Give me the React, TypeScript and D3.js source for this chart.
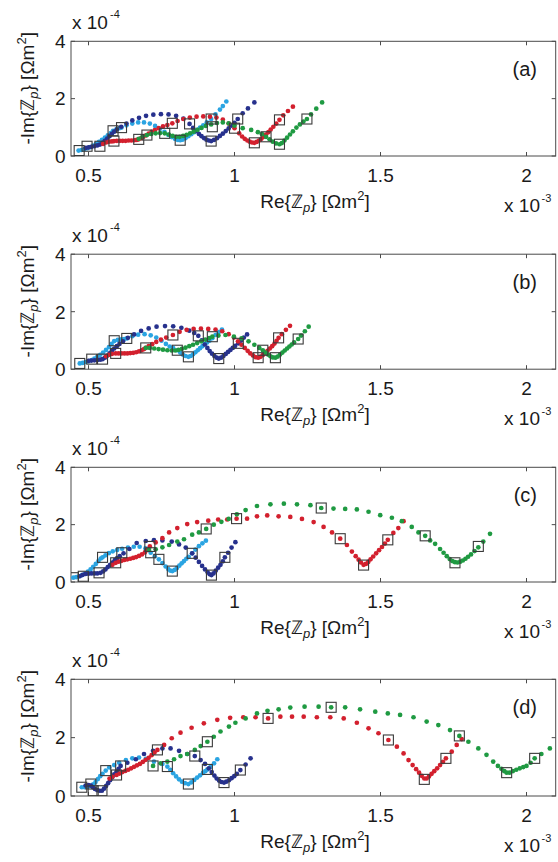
import React from "react";
import * as d3 from "d3";

// ---------- axes / labels ----------
const X_DOMAIN = [0.44, 2.1]; // x 10^-3
const Y_DOMAIN = [0, 4]; // x 10^-4
const X_TICKS = [0.5, 1, 1.5, 2];
const Y_TICKS = [0, 2, 4];
const PANEL_LABELS = ["(a)", "(b)", "(c)", "(d)"];
const SERIES_NAMES = ["cyan", "blue", "red", "green"];
const SERIES_COLORS = ["#2aa4e2", "#27318d", "#d3202e", "#1f9a42"];

// ---------- panel (a) ----------
const aCyan = [[0.466,0.19],[0.476,0.21],[0.486,0.24],[0.496,0.27],[0.506,0.31],[0.516,0.36],[0.526,0.42],[0.536,0.49],[0.546,0.56],[0.556,0.64],[0.566,0.72],[0.576,0.8],[0.584,0.88],[0.596,0.94],[0.606,0.97],[0.613,0.99],[0.63,1.07],[0.65,1.13],[0.67,1.17],[0.69,1.17],[0.71,1.13],[0.728,1.05],[0.745,0.95],[0.76,0.84],[0.773,0.74],[0.785,0.66],[0.796,0.6],[0.806,0.56],[0.814,0.55],[0.822,0.57],[0.832,0.62],[0.842,0.69],[0.852,0.76],[0.862,0.83],[0.872,0.91],[0.882,0.99],[0.893,1.07],[0.905,1.17],[0.92,1.29],[0.935,1.45],[0.95,1.62],[0.96,1.74],[0.972,1.9]];
const aBlue = [[0.49,0.28],[0.5,0.3],[0.51,0.32],[0.52,0.34],[0.53,0.37],[0.539,0.4],[0.548,0.46],[0.556,0.53],[0.564,0.61],[0.572,0.69],[0.58,0.77],[0.588,0.85],[0.597,0.92],[0.612,1.02],[0.63,1.13],[0.65,1.24],[0.673,1.33],[0.697,1.4],[0.722,1.44],[0.748,1.46],[0.774,1.45],[0.8,1.4],[0.825,1.3],[0.846,1.12],[0.858,0.98],[0.868,0.87],[0.878,0.77],[0.887,0.69],[0.896,0.62],[0.904,0.57],[0.912,0.54],[0.92,0.52],[0.93,0.56],[0.94,0.62],[0.95,0.7],[0.96,0.78],[0.97,0.87],[0.98,0.96],[0.99,1.06],[1.0,1.16],[1.011,1.29],[1.028,1.49],[1.046,1.66],[1.068,1.87]];
const aRed = [[0.55,0.42],[0.56,0.47],[0.57,0.5],[0.58,0.51],[0.587,0.52],[0.597,0.53],[0.607,0.53],[0.617,0.53],[0.627,0.53],[0.637,0.54],[0.647,0.54],[0.657,0.55],[0.665,0.56],[0.672,0.58],[0.68,0.62],[0.688,0.67],[0.697,0.72],[0.706,0.78],[0.716,0.84],[0.727,0.9],[0.74,0.97],[0.755,1.03],[0.77,1.08],[0.787,1.14],[0.805,1.22],[0.825,1.29],[0.847,1.34],[0.87,1.37],[0.893,1.38],[0.916,1.37],[0.938,1.34],[0.96,1.27],[0.98,1.13],[1.0,0.97],[1.016,0.79],[1.026,0.68],[1.035,0.6],[1.044,0.54],[1.052,0.5],[1.06,0.47],[1.068,0.46],[1.076,0.49],[1.084,0.54],[1.092,0.6],[1.1,0.67],[1.108,0.75],[1.116,0.83],[1.124,0.92],[1.133,1.02],[1.143,1.13],[1.154,1.26],[1.167,1.42],[1.183,1.57],[1.2,1.72]];
const aGreen = [[0.672,0.6],[0.685,0.68],[0.7,0.73],[0.715,0.77],[0.73,0.79],[0.745,0.8],[0.761,0.79],[0.775,0.75],[0.788,0.7],[0.8,0.67],[0.812,0.67],[0.824,0.7],[0.836,0.74],[0.848,0.79],[0.86,0.85],[0.873,0.91],[0.887,0.98],[0.902,1.05],[0.92,1.1],[0.94,1.15],[0.96,1.17],[0.98,1.14],[1.0,1.06],[1.028,0.97],[1.057,0.91],[1.08,0.83],[1.094,0.76],[1.108,0.67],[1.12,0.58],[1.131,0.5],[1.142,0.44],[1.154,0.41],[1.162,0.45],[1.171,0.54],[1.18,0.64],[1.19,0.75],[1.2,0.86],[1.212,0.99],[1.224,1.1],[1.236,1.2],[1.248,1.29],[1.262,1.45],[1.28,1.65],[1.3,1.87]];
const aSquares = [[0.468,0.19],[0.495,0.34],[0.539,0.34],[0.584,0.88],[0.587,0.52],[0.613,0.99],[0.672,0.58],[0.7,0.73],[0.761,0.79],[0.787,1.14],[0.814,0.55],[0.846,1.12],[0.92,1.29],[0.924,1.02],[0.92,0.52],[1.011,1.29],[1.0,0.97],[1.068,0.46],[1.108,0.67],[1.154,0.41],[1.154,1.26],[1.248,1.29]];

// ---------- panel (b) ----------
const bCyan = [[0.47,0.2],[0.48,0.22],[0.49,0.25],[0.5,0.28],[0.51,0.32],[0.52,0.37],[0.53,0.43],[0.54,0.5],[0.55,0.58],[0.56,0.67],[0.57,0.77],[0.579,0.88],[0.588,0.98],[0.6,1.02],[0.612,1.04],[0.622,1.05],[0.631,1.07],[0.65,1.15],[0.67,1.2],[0.692,1.22],[0.713,1.18],[0.732,1.1],[0.75,0.99],[0.765,0.88],[0.778,0.79],[0.79,0.73],[0.804,0.66],[0.814,0.58],[0.823,0.51],[0.832,0.46],[0.842,0.43],[0.85,0.46],[0.858,0.52],[0.866,0.59],[0.874,0.66],[0.882,0.73],[0.89,0.8],[0.898,0.87],[0.906,0.93],[0.914,0.99],[0.924,1.08],[0.935,1.19],[0.946,1.29],[0.957,1.38]];
const bBlue = [[0.5,0.29],[0.51,0.3],[0.52,0.31],[0.53,0.32],[0.54,0.33],[0.548,0.35],[0.556,0.4],[0.564,0.47],[0.572,0.55],[0.58,0.64],[0.588,0.72],[0.597,0.8],[0.606,0.88],[0.618,0.97],[0.635,1.09],[0.656,1.21],[0.68,1.33],[0.706,1.42],[0.733,1.48],[0.762,1.5],[0.79,1.49],[0.818,1.44],[0.845,1.34],[0.862,1.26],[0.876,1.16],[0.888,1.0],[0.898,0.86],[0.907,0.74],[0.915,0.63],[0.923,0.54],[0.931,0.46],[0.939,0.4],[0.946,0.37],[0.954,0.4],[0.962,0.46],[0.97,0.53],[0.978,0.6],[0.986,0.67],[0.994,0.74],[1.002,0.81],[1.013,0.9],[1.022,0.99],[1.032,1.1],[1.043,1.21]];
const bRed = [[0.56,0.45],[0.57,0.5],[0.58,0.53],[0.593,0.55],[0.603,0.55],[0.613,0.55],[0.623,0.55],[0.633,0.55],[0.643,0.56],[0.653,0.57],[0.663,0.59],[0.673,0.62],[0.682,0.66],[0.69,0.7],[0.696,0.74],[0.706,0.8],[0.718,0.87],[0.732,0.95],[0.748,1.03],[0.766,1.1],[0.789,1.19],[0.812,1.3],[0.836,1.37],[0.86,1.4],[0.885,1.41],[0.91,1.4],[0.935,1.38],[0.958,1.32],[0.98,1.22],[0.998,1.1],[1.012,0.97],[1.024,0.85],[1.035,0.74],[1.045,0.64],[1.054,0.55],[1.063,0.48],[1.072,0.42],[1.081,0.4],[1.089,0.43],[1.097,0.49],[1.105,0.56],[1.113,0.64],[1.121,0.72],[1.129,0.8],[1.137,0.89],[1.144,0.99],[1.151,1.09],[1.162,1.22],[1.176,1.37],[1.19,1.51]];
const bGreen = [[0.696,0.74],[0.71,0.74],[0.725,0.72],[0.74,0.7],[0.755,0.68],[0.77,0.66],[0.785,0.65],[0.797,0.65],[0.808,0.67],[0.82,0.71],[0.832,0.75],[0.845,0.8],[0.858,0.85],[0.872,0.91],[0.886,0.97],[0.9,1.03],[0.913,1.08],[0.924,1.13],[0.945,1.17],[0.969,1.19],[0.998,1.13],[1.024,1.07],[1.048,0.97],[1.068,0.85],[1.085,0.74],[1.097,0.66],[1.106,0.58],[1.115,0.51],[1.123,0.45],[1.131,0.41],[1.14,0.4],[1.148,0.44],[1.156,0.51],[1.164,0.58],[1.172,0.65],[1.18,0.72],[1.188,0.79],[1.196,0.86],[1.204,0.93],[1.218,1.05],[1.228,1.17],[1.241,1.32],[1.254,1.48]];
const bSquares = [[0.47,0.2],[0.511,0.35],[0.548,0.35],[0.588,0.99],[0.593,0.55],[0.631,1.07],[0.696,0.74],[0.789,1.19],[0.804,0.66],[0.842,0.43],[0.876,1.16],[0.924,1.13],[0.946,0.37],[1.013,0.9],[1.081,0.4],[1.097,0.66],[1.14,0.4],[1.151,1.09],[1.218,1.05]];

// ---------- panel (c) ----------
const cCyan = [[0.448,0.15],[0.458,0.17],[0.468,0.2],[0.478,0.24],[0.488,0.29],[0.498,0.36],[0.507,0.44],[0.516,0.53],[0.525,0.63],[0.534,0.73],[0.542,0.82],[0.548,0.86],[0.558,0.93],[0.57,1.01],[0.583,1.07],[0.598,1.12],[0.615,1.16],[0.635,1.2],[0.655,1.23],[0.675,1.23],[0.695,1.17],[0.713,1.02],[0.727,0.9],[0.741,0.79],[0.753,0.66],[0.764,0.54],[0.773,0.45],[0.78,0.4],[0.787,0.38],[0.795,0.42],[0.803,0.49],[0.811,0.57],[0.819,0.65],[0.827,0.73],[0.835,0.81],[0.843,0.88],[0.855,1.0],[0.866,1.13],[0.878,1.25],[0.89,1.35],[0.902,1.44]];
const cBlue = [[0.47,0.2],[0.48,0.25],[0.49,0.28],[0.5,0.29],[0.51,0.3],[0.52,0.3],[0.53,0.3],[0.541,0.32],[0.55,0.37],[0.558,0.44],[0.566,0.52],[0.574,0.6],[0.582,0.68],[0.59,0.76],[0.598,0.83],[0.607,0.9],[0.62,1.0],[0.64,1.15],[0.665,1.36],[0.696,1.43],[0.724,1.46],[0.753,1.45],[0.785,1.41],[0.81,1.31],[0.833,1.2],[0.855,1.0],[0.867,0.85],[0.878,0.7],[0.889,0.56],[0.899,0.44],[0.908,0.34],[0.915,0.27],[0.921,0.24],[0.928,0.3],[0.936,0.4],[0.944,0.5],[0.952,0.6],[0.96,0.72],[0.967,0.86],[0.978,1.02],[0.99,1.2],[1.003,1.39]];
const cRed = [[0.582,0.6],[0.593,0.67],[0.603,0.71],[0.613,0.74],[0.623,0.77],[0.633,0.79],[0.643,0.81],[0.653,0.84],[0.663,0.87],[0.673,0.91],[0.683,0.96],[0.693,1.03],[0.702,1.12],[0.71,1.24],[0.73,1.38],[0.753,1.53],[0.776,1.73],[0.804,1.88],[0.838,2.02],[0.872,2.09],[0.91,2.14],[0.944,2.18],[0.975,2.18],[1.007,2.21],[1.043,2.21],[1.077,2.29],[1.112,2.32],[1.151,2.29],[1.191,2.27],[1.231,2.2],[1.271,2.09],[1.305,1.92],[1.334,1.73],[1.362,1.51],[1.385,1.29],[1.402,1.06],[1.415,0.9],[1.425,0.78],[1.433,0.68],[1.442,0.6],[1.45,0.63],[1.458,0.7],[1.466,0.79],[1.475,0.89],[1.485,1.0],[1.495,1.11],[1.505,1.22],[1.515,1.34],[1.525,1.47],[1.544,1.71],[1.561,1.88],[1.579,2.12]];
const cGreen = [[0.707,1.12],[0.73,1.14],[0.753,1.21],[0.776,1.29],[0.804,1.41],[0.827,1.49],[0.855,1.65],[0.878,1.73],[0.903,1.85],[0.929,2.0],[0.955,2.1],[0.98,2.2],[1.008,2.36],[1.038,2.51],[1.077,2.65],[1.123,2.71],[1.169,2.73],[1.214,2.71],[1.26,2.68],[1.297,2.58],[1.339,2.56],[1.379,2.55],[1.419,2.53],[1.459,2.45],[1.499,2.33],[1.539,2.24],[1.573,2.12],[1.607,1.92],[1.63,1.73],[1.653,1.61],[1.67,1.45],[1.687,1.33],[1.704,1.15],[1.716,1.02],[1.727,0.9],[1.737,0.8],[1.746,0.73],[1.755,0.69],[1.764,0.68],[1.773,0.71],[1.782,0.75],[1.791,0.81],[1.8,0.88],[1.81,0.96],[1.822,1.08],[1.835,1.21],[1.852,1.41],[1.875,1.68]];
const cSquares = [[0.448,0.15],[0.482,0.2],[0.536,0.32],[0.548,0.86],[0.593,0.67],[0.614,1.02],[0.71,1.24],[0.713,1.02],[0.741,0.79],[0.787,0.38],[0.855,1.0],[0.903,1.85],[0.921,0.24],[0.967,0.86],[1.007,2.21],[1.297,2.58],[1.362,1.51],[1.442,0.59],[1.525,1.47],[1.653,1.61],[1.755,0.67],[1.835,1.24]];

// ---------- panel (d) ----------
const dCyan = [[0.477,0.3],[0.487,0.3],[0.497,0.31],[0.508,0.34],[0.516,0.4],[0.524,0.48],[0.532,0.58],[0.54,0.68],[0.548,0.76],[0.559,0.87],[0.571,0.98],[0.588,1.06],[0.605,1.14],[0.628,1.23],[0.65,1.29],[0.673,1.32],[0.696,1.27],[0.724,1.18],[0.753,1.1],[0.77,1.01],[0.78,0.9],[0.79,0.78],[0.8,0.67],[0.81,0.57],[0.82,0.49],[0.83,0.44],[0.842,0.41],[0.852,0.47],[0.862,0.55],[0.872,0.63],[0.882,0.71],[0.892,0.79],[0.9,0.85],[0.907,0.91],[0.918,1.0],[0.93,1.12],[0.941,1.26]];
const dBlue = [[0.49,0.36],[0.5,0.37],[0.508,0.36],[0.515,0.3],[0.522,0.24],[0.53,0.2],[0.538,0.18],[0.546,0.18],[0.553,0.25],[0.56,0.34],[0.567,0.44],[0.574,0.54],[0.581,0.64],[0.588,0.74],[0.596,0.84],[0.603,0.93],[0.61,1.03],[0.633,1.14],[0.662,1.26],[0.69,1.44],[0.721,1.55],[0.753,1.63],[0.781,1.63],[0.81,1.55],[0.838,1.44],[0.864,1.37],[0.884,1.23],[0.899,1.1],[0.912,0.95],[0.922,0.82],[0.931,0.7],[0.939,0.6],[0.947,0.53],[0.955,0.48],[0.964,0.46],[0.972,0.49],[0.981,0.54],[0.99,0.61],[0.999,0.68],[1.008,0.76],[1.02,0.89],[1.038,1.08],[1.055,1.29]];
const dRed = [[0.572,0.6],[0.582,0.66],[0.596,0.72],[0.606,0.77],[0.616,0.82],[0.626,0.86],[0.636,0.9],[0.646,0.95],[0.656,1.0],[0.666,1.05],[0.676,1.1],[0.686,1.17],[0.696,1.24],[0.706,1.31],[0.716,1.4],[0.726,1.49],[0.736,1.58],[0.759,1.75],[0.785,1.98],[0.815,2.17],[0.853,2.34],[0.895,2.49],[0.941,2.61],[0.985,2.68],[1.03,2.7],[1.072,2.7],[1.115,2.66],[1.157,2.72],[1.197,2.72],[1.237,2.72],[1.282,2.7],[1.328,2.7],[1.374,2.66],[1.419,2.51],[1.459,2.32],[1.493,2.15],[1.527,1.92],[1.556,1.69],[1.579,1.46],[1.596,1.23],[1.61,1.06],[1.622,0.92],[1.632,0.8],[1.641,0.69],[1.65,0.6],[1.658,0.6],[1.666,0.67],[1.675,0.76],[1.684,0.85],[1.694,0.95],[1.704,1.06],[1.714,1.17],[1.724,1.29],[1.744,1.52],[1.761,1.75],[1.778,1.95]];
const dGreen = [[0.721,1.03],[0.747,1.12],[0.77,1.18],[0.793,1.26],[0.815,1.37],[0.838,1.44],[0.864,1.58],[0.884,1.71],[0.907,1.86],[0.929,2.03],[0.952,2.21],[0.981,2.38],[1.003,2.51],[1.038,2.66],[1.077,2.83],[1.113,2.92],[1.151,2.97],[1.191,3.03],[1.24,3.06],[1.288,3.06],[1.331,3.04],[1.379,3.04],[1.43,2.97],[1.482,2.89],[1.525,2.83],[1.567,2.78],[1.613,2.7],[1.658,2.55],[1.698,2.43],[1.738,2.26],[1.77,2.06],[1.801,1.86],[1.835,1.63],[1.863,1.41],[1.886,1.18],[1.902,1.03],[1.914,0.93],[1.924,0.85],[1.932,0.8],[1.942,0.8],[1.953,0.85],[1.965,0.9],[1.977,0.95],[1.989,0.99],[2.0,1.03],[2.014,1.14],[2.028,1.29],[2.051,1.44],[2.08,1.63]];
const dSquares = [[0.477,0.3],[0.508,0.41],[0.516,0.18],[0.546,0.18],[0.559,0.87],[0.596,0.72],[0.61,1.03],[0.721,1.03],[0.736,1.58],[0.77,1.01],[0.842,0.41],[0.864,1.37],[0.907,1.86],[0.907,0.91],[0.964,0.46],[1.02,0.89],[1.115,2.66],[1.331,3.04],[1.527,1.92],[1.65,0.57],[1.724,1.29],[1.77,2.06],[1.932,0.8],[2.028,1.29]];

const PANELS = [
  { series: [aCyan, aBlue, aRed, aGreen], squares: aSquares },
  { series: [bCyan, bBlue, bRed, bGreen], squares: bSquares },
  { series: [cCyan, cBlue, cRed, cGreen], squares: cSquares },
  { series: [dCyan, dBlue, dRed, dGreen], squares: dSquares },
];

// ---------- layout ----------
const W = 558;
const H = 862;
const LEFT = 71;
const RIGHT = 555.7;
const TOPS = [41.3, 254.2, 467.3, 679.3];
const BOTTOMS = [156, 369.2, 582, 796];
const FONT = "'Liberation Sans', Arial, Helvetica, sans-serif";
const TXT = "#1a1a1a";
const FRAME = "#4a4a4a";
const TICK_LEN = 4;
const DOT_R = 2.35;
const SQ = 10;

function Panel({ idx }: { idx: number }) {
  const top = TOPS[idx];
  const bottom = BOTTOMS[idx];
  const x = d3.scaleLinear().domain(X_DOMAIN).range([LEFT, RIGHT]);
  const y = d3.scaleLinear().domain(Y_DOMAIN).range([bottom, top]);
  const panel = PANELS[idx];
  const clipId = `clip-${idx}`;
  const midX = 315;
  return (
    <g>
      <defs>
        <clipPath id={clipId}>
          <rect x={LEFT} y={top} width={RIGHT - LEFT} height={bottom - top} />
        </clipPath>
      </defs>
      <rect x={LEFT} y={top} width={RIGHT - LEFT} height={bottom - top} fill="#fff" stroke={FRAME} strokeWidth={1} />
      {X_TICKS.map((t) => (
        <g key={`xt${t}`}>
          <line x1={x(t)} x2={x(t)} y1={bottom} y2={bottom - TICK_LEN} stroke={FRAME} strokeWidth={1} />
          <line x1={x(t)} x2={x(t)} y1={top} y2={top + TICK_LEN} stroke={FRAME} strokeWidth={1} />
          <text x={x(t)} y={bottom + 26} textAnchor="middle" fontFamily={FONT} fontSize={19} fill={TXT}>
            {String(t)}
          </text>
        </g>
      ))}
      {Y_TICKS.map((t) => (
        <g key={`yt${t}`}>
          <line x1={LEFT} x2={LEFT + TICK_LEN} y1={y(t)} y2={y(t)} stroke={FRAME} strokeWidth={1} />
          <line x1={RIGHT} x2={RIGHT - TICK_LEN} y1={y(t)} y2={y(t)} stroke={FRAME} strokeWidth={1} />
          <text x={LEFT - 5.5} y={y(t) + 6.8} textAnchor="end" fontFamily={FONT} fontSize={19} fill={TXT}>
            {String(t)}
          </text>
        </g>
      ))}
      {/* exponent labels */}
      <text x={LEFT + 1} y={top - 12} fontFamily={FONT} fontSize={19} fill={TXT}>x 10</text>
      <text x={LEFT + 39} y={top - 23} fontFamily={FONT} fontSize={11} fill={TXT}>-4</text>
      <text x={540} y={bottom + 56} textAnchor="end" fontFamily={FONT} fontSize={19} fill={TXT}>x 10</text>
      <text x={541.5} y={bottom + 46} fontFamily={FONT} fontSize={11} fill={TXT}>-3</text>
      {/* x label */}
      <text x={midX} y={bottom + 52} textAnchor="middle" fontFamily={FONT} fontSize={19} fill={TXT}>
        Re{"{"}ℤ<tspan fontStyle="italic" fontSize={13} dy={4}>p</tspan>
        <tspan dy={-4}>{"}"} [Ωm</tspan>
        <tspan fontSize={13} dy={-8}>2</tspan>
        <tspan dy={8}>]</tspan>
      </text>
      {/* y label */}
      <text
        transform={`translate(34, ${top + 47}) rotate(-90)`}
        textAnchor="middle"
        fontFamily={FONT}
        fontSize={19}
        fill={TXT}
      >
        -Im{"{"}ℤ<tspan fontStyle="italic" fontSize={13} dy={4}>p</tspan>
        <tspan dy={-4}>{"}"} [Ωm</tspan>
        <tspan fontSize={13} dy={-8}>2</tspan>
        <tspan dy={8}>]</tspan>
      </text>
      <text x={537} y={top + 35} textAnchor="end" fontFamily={FONT} fontSize={20} fill={TXT}>
        {PANEL_LABELS[idx]}
      </text>
      <g clipPath={`url(#${clipId})`}>
        {panel.series.map((pts, si) => (
          <g key={SERIES_NAMES[si]} fill={SERIES_COLORS[si]}>
            {pts.map((p, k) => (
              <circle key={k} cx={x(p[0])} cy={y(p[1])} r={DOT_R} />
            ))}
          </g>
        ))}
        {panel.squares.map((p, k) => (
          <rect
            key={`sq${k}`}
            x={x(p[0]) - SQ / 2}
            y={y(p[1]) - SQ / 2}
            width={SQ}
            height={SQ}
            fill="none"
            stroke="#3a3a3a"
            strokeWidth={1.1}
          />
        ))}
      </g>
    </g>
  );
}

export default function App() {
  return (
    <svg
      width={W}
      height={H}
      viewBox={`0 0 ${W} ${H}`}
      style={{ position: "absolute", left: 0, top: 0, background: "#fff" }}
    >
      <rect x={0} y={0} width={W} height={H} fill="#fff" />
      {PANELS.map((_, i) => (
        <Panel key={i} idx={i} />
      ))}
    </svg>
  );
}
